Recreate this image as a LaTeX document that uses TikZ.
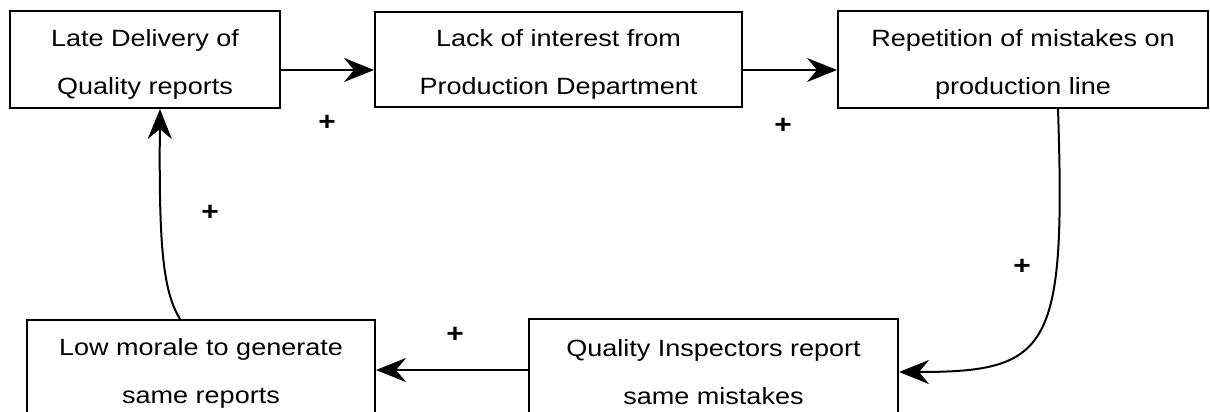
\documentclass[tikz,border=0pt]{standalone}
\usepackage{fontspec}
\setmainfont[FakeStretch=1.15]{Liberation Sans}
\usetikzlibrary{arrows.meta,calc}
\newcommand{\topstrut}{\rule{0pt}{27pt}}
\begin{document}
\begin{tikzpicture}[x=1pt,y=-1pt,
  box/.style={draw=black, line width=2pt, fill=white, inner sep=0pt, align=center,
    font=\fontsize{23.5}{48}\selectfont},
  arr/.style={line width=2pt, -{Stealth[length=30pt,width=24pt,inset=10pt]}},
  sign/.style={inner sep=0pt, font=\fontsize{26}{26}\selectfont\bfseries}]
\clip (0,0) rectangle (1210,412);
\fill[white] (0,0) rectangle (1210,412);
\node[box, minimum width=270pt, minimum height=97pt] (b1) at (145,59.5) {\topstrut Late Delivery of\\Quality reports};
\node[box, minimum width=367pt, minimum height=95pt] (b2) at (558.5,59.5) {\topstrut Lack of interest from\\Production Department};
\node[box, minimum width=370pt, minimum height=97pt] (b3) at (1023,59.5) {\topstrut Repetition of mistakes on\\production line};
\node[box, minimum width=348pt, minimum height=97pt] (b4) at (201,368.5) {\topstrut Low morale to generate\\same reports};
\node[box, minimum width=369pt, minimum height=97pt] (b5) at (713.5,367.5) {\topstrut Quality Inspectors report\\same mistakes};

\draw[arr] ($(b1.east)+(0,10.5)$) -- ($(b2.west)+(0,10.5)$);
\draw[arr] ($(b2.east)+(0,10.5)$) -- ($(b3.west)+(0,10.5)$);
\draw[arr] ($(b3.south)+(35,0)$) .. controls (1066,350) and (1050,372) .. ($(b5.east)+(0,4.5)$);
\draw[arr] ($(b5.west)+(0,2.5)$) -- ($(b4.east)+(0,1.5)$);
\draw[arr] ($(b4.north)+(-21,0)$) .. controls (162,290) and (159,240) .. ($(b1.south)+(15,0)$);

\node[sign] (s1) at (327,123) {+};
\node[sign] (s2) at (783,126) {+};
\node[sign] (s3) at (1022,267) {+};
\node[sign] (s4) at (455,335) {+};
\node[sign] (s5) at (210,213) {+};
\end{tikzpicture}
\end{document}
